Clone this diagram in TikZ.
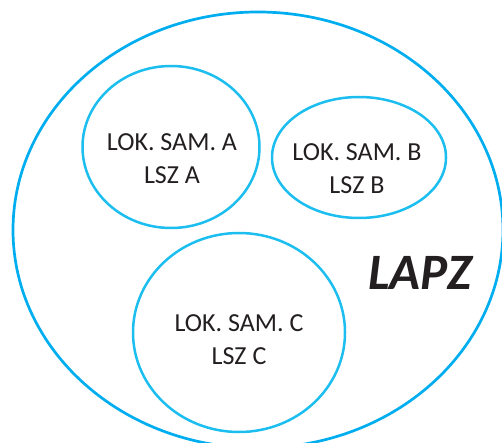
\documentclass[tikz,border=0pt]{standalone}
\usepackage{fontspec}
\setmainfont{Carlito}
\usetikzlibrary{shapes.geometric}
\definecolor{outerblue}{HTML}{00AEEF}
\definecolor{innerblue}{HTML}{1CBDEF}
\definecolor{txt}{HTML}{231F20}
\begin{document}
\begin{tikzpicture}[x=1pt,y=-1pt,
  region/.style={ellipse, draw=innerblue, line width=2.5pt, inner sep=0pt},
  lbl/.style={text=txt, font=\fontsize{26}{30}\selectfont, inner sep=0pt, anchor=center}]
  \useasboundingbox (0,0) rectangle (502,443);
  \begin{scope}
    \clip (0,0) rectangle (502,443);
    % outer region
    \node[ellipse, draw=outerblue, line width=2.7pt, inner sep=0pt,
          minimum width=490pt, minimum height=436pt] (lapz) at (258,230) {};
  \end{scope}
  % three local regions
  \node[region, minimum width=177pt, minimum height=162pt] (a) at (171,147) {};
  \node[region, minimum width=174pt, minimum height=121pt] (b) at (359,157.5) {};
  \node[region, minimum width=212pt, minimum height=199pt] (c) at (239,332.5) {};
  % labels
  \node[lbl] (a1) at (172,142) {LOK. SAM. A};
  \node[lbl] (a2) at (172,175) {LSZ A};
  \node[lbl] (b1) at (357,152) {LOK. SAM. B};
  \node[lbl] (b2) at (357,185) {LSZ B};
  \node[lbl] (c1) at (239,323) {LOK. SAM. C};
  \node[lbl] (c2) at (239,356) {LSZ C};
  \node[text=txt, font=\fontsize{51}{60}\selectfont\bfseries\itshape, inner sep=0pt] (t) at (420,273) {LAPZ};
\end{tikzpicture}
\end{document}
